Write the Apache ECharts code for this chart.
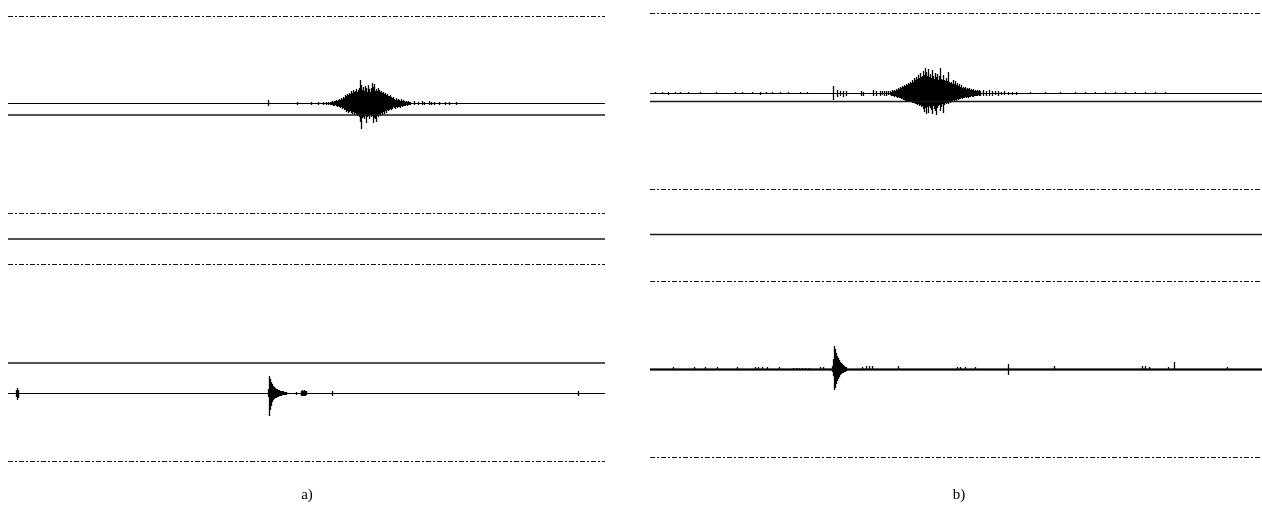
<!DOCTYPE html>
<html><head><meta charset="utf-8">
<script src="https://cdn.jsdelivr.net/npm/echarts@6/dist/echarts.min.js"></script>
<style>html,body{margin:0;padding:0;background:#fff}#c{width:1262px;height:507px}</style>
</head><body><div id="c"></div>
<script>
// ---------- DATA ----------
// Panel labels
const panelLabels = ['a)', 'b)'];
// Sample ranges of the two panels
const aLength = 597;
const bLength = 612;
// Panel a levels (amplitude units)
const aDashed = [222.5, 25.5, -25.5, -222.5];
const aSolid = [124, 0, -124];
const aBase = [135.5, -154.5];
// Panel b levels
const bDashed = [222, 46, -46, -222];
const bSolid = [134, 1, -134];
const bBase = [142, -134];

// Panel a, upper trace: isolated ticks [sample, up, down]
const aTopTicks = [[260,3,2],[289,1,1],[303,1,1],[310,1,1],[315,1,1],[318,1,1],[320,1,1],[406,2,1],[410,1,1],[414,2,1],[416,1,1],[421,2,1],[423,1,1],[426,1,1],[431,1,1],[437,1,1],[441,1,1],[448,1,1]];
const aTopBurstStart = 322;
const aTopBurstUp = [1,1,2,1,2,2,3,2,3,4, 3,5,4,6,5,8,7,9,8,10, 9,12,10,13,11,12,14,11,13,15, 23,18,13,16,12,17,15,11,18,14, 11,15,20,16,19,12,14,12,15,13, 11,12,10,11,9,10,8,9,7,7, 8,6,5,6,4,3,5,3,4,3, 2,4,2,3,2,1,2,1,2,1, 1];
const aTopBurstDown = [1,1,1,2,2,1,2,3,2,3, 4,3,5,4,6,6,8,7,9,8, 7,9,10,8,11,9,10,12,11,13, 18,25,14,13,15,11,19,13,12,15, 11,13,12,19,14,15,18,11,13,10, 12,9,11,8,10,7,9,6,7,6, 5,6,5,3,4,5,3,4,3,3, 4,2,3,2,2,2,1,2,1,1, 1];

// Panel a, lower trace
const aBotTicks = [[8,3,3],[9,5,6],[10,3,4],[288,1,1],[293,2,2],[294,3,2],[295,2,2],[296,3,2],[297,2,2],[298,2,1],[324,2,2],[570,2,2]];
const aBotBurstStart = 260;
const aBotBurstUp = [4,17,14,11,9,7,6,5,4,4,3,3,2,2,2,2,1,1,1];
const aBotBurstDown = [3,22,16,12,8,6,5,4,4,3,3,2,2,2,1,1,1,1,1];

// Panel b, upper trace
const bTopTicks = [[5,1,0],[12,1,0],[18,1,1],[25,1,0],[30,1,0],[38,1,0],[50,1,0],[66,1,0],[85,1,0],[92,1,0],[102,1,0],[110,1,1],[116,1,0],[122,1,0],[130,1,0],[138,1,0],[150,1,0],[157,1,0],
  [183,7,6],[187,3,3],[190,2,2],[193,2,3],[196,2,2],[211,2,2],[213,1,2],[223,3,2],[226,2,2],[230,2,2],[232,2,1],[234,2,2],[236,2,2],[238,2,1],
  [333,3,2],[336,2,2],[339,3,2],[342,2,2],[345,2,1],[348,2,2],[351,1,1],[354,2,1],[358,1,1],[362,1,1],[366,1,1],
  [380,1,0],[395,1,0],[410,1,0],[425,1,0],[435,1,0],[445,1,0],[455,1,0],[465,1,0],[475,1,0],[485,1,0],[495,1,0],[505,1,0],[515,1,0]];
const bTopBurstStart = 240;
const bTopBurstUp = [2,1,3,2,3,2,4,3,5,4, 6,5,7,6,8,7,9,8,10,9, 11,10,13,11,15,13,16,14,18,15, 20,16,17,22,18,25,21,17,24,16, 19,15,23,17,14,20,16,19,13,17, 25,14,13,18,13,12,15,12,21,11, 10,11,9,13,9,12,8,10,7,9, 6,8,5,6,5,6,4,5,4,5, 3,4,3,4,2,3,2,3,2,3, 2];
const bTopBurstDown = [1,2,2,2,3,2,3,4,3,4, 4,5,5,6,6,7,7,7,7,8, 8,8,9,9,9,10,10,11,10,12, 11,13,12,15,18,14,20,13,19,12, 14,16,20,12,15,17,21,14,12,11, 17,13,10,19,11,9,10,9,10,8, 9,7,8,6,7,6,7,5,6,5, 5,4,5,4,4,3,4,3,4,3, 3,2,3,3,2,2,2,2,1,2, 2];

// Panel b, lower trace
const bBotTicks = [[23,2,0],[44,2,0],[55,2,0],[67,2,0],[87,2,0],[105,2,0],[108,2,0],[112,2,0],[117,2,0],[129,2,0],[143,1,0],[146,1,0],[149,1,0],[152,1,0],[155,1,0],[159,1,0],[170,2,0],[173,2,0],[212,2,0],[216,3,0],[219,3,0],[222,3,0],[248,3,0],[307,2,0],[310,2,0],[315,2,0],[325,2,0],[358,5,5],[404,3,0],[492,3,0],[495,3,0],[499,2,0],[518,2,0],[524,7,0],[577,2,0]];
const bBotBurstStart = 182;
const bBotBurstUp = [3,10,23,20,16,13,11,9,7,6,5,4,3,2,2];
const bBotBurstDown = [2,6,20,18,14,11,9,7,5,4,3,3,2,2,1];

// ---------- BUILD ----------
function columns(ticks, start, up, down) {
  return ticks.concat(up.map((h, i) => [start + i, h, down[i]]));
}
const dashType = [5, 2, 2, 2];
function hline(gi, len, v, kind) {
  const ls = kind === 'dash' ? {color: '#111', width: 1, type: dashType}
           : kind === 'solid' ? {color: '#1a1a1a', width: 1.5}
           : {color: '#000', width: kind};
  return {type: 'line', xAxisIndex: gi, yAxisIndex: gi, data: [[0, v], [len, v]], symbol: 'none', silent: true, animation: false, clip: false, lineStyle: ls};
}
function sig(gi, base, cols) {
  return {
    type: 'custom', xAxisIndex: gi, yAxisIndex: gi, data: cols, silent: true, animation: false, clip: false,
    encode: {x: 0, y: 1},
    renderItem: function (params, api) {
      const x = api.value(0), up = api.value(1), dn = api.value(2);
      const p1 = api.coord([x, base + up]);
      const p2 = api.coord([x, base - dn]);
      const px = Math.round(p1[0]) + 0.5;
      return {type: 'line', shape: {x1: px, y1: p1[1] - 0.5, x2: px, y2: p2[1] + 0.5}, style: {stroke: '#000', lineWidth: 1.3}};
    }
  };
}
const series = [];
aDashed.forEach(v => series.push(hline(0, aLength, v, 'dash')));
aSolid.forEach(v => series.push(hline(0, aLength, v, 'solid')));
bDashed.forEach(v => series.push(hline(1, bLength, v, 'dash')));
bSolid.forEach(v => series.push(hline(1, bLength, v, 'solid')));
series.push(hline(0, aLength, aBase[0], 1.2));
series.push(hline(0, aLength, aBase[1], 1.2));
series.push(hline(1, bLength, bBase[0], 1.2));
series.push(hline(1, bLength, bBase[1], 2));
series.push(sig(0, aBase[0], columns(aTopTicks, aTopBurstStart, aTopBurstUp, aTopBurstDown)));
series.push(sig(0, aBase[1], columns(aBotTicks, aBotBurstStart, aBotBurstUp, aBotBurstDown)));
series.push(sig(1, bBase[0], columns(bTopTicks, bTopBurstStart, bTopBurstUp, bTopBurstDown)));
series.push(sig(1, bBase[1], columns(bBotTicks, bBotBurstStart, bBotBurstUp, bBotBurstDown)));

const chart = echarts.init(document.getElementById('c'), null, {renderer: 'canvas'});
chart.setOption({
  animation: false,
  backgroundColor: '#fff',
  grid: [
    {left: 8, width: 597, top: 6.5, height: 465},
    {left: 650, width: 612, top: 3.5, height: 464}
  ],
  xAxis: [
    {type: 'value', gridIndex: 0, min: 0, max: aLength, show: false},
    {type: 'value', gridIndex: 1, min: 0, max: bLength, show: false}
  ],
  yAxis: [
    {type: 'value', gridIndex: 0, min: -232.5, max: 232.5, show: false},
    {type: 'value', gridIndex: 1, min: -232, max: 232, show: false}
  ],
  graphic: [
    {type: 'text', x: 307, y: 495, style: {text: panelLabels[0], fill: '#000', font: '15px "Liberation Serif", serif', align: 'center', verticalAlign: 'middle'}},
    {type: 'text', x: 959, y: 495, style: {text: panelLabels[1], fill: '#000', font: '15px "Liberation Serif", serif', align: 'center', verticalAlign: 'middle'}}
  ],
  series: series
});
</script></body></html>
